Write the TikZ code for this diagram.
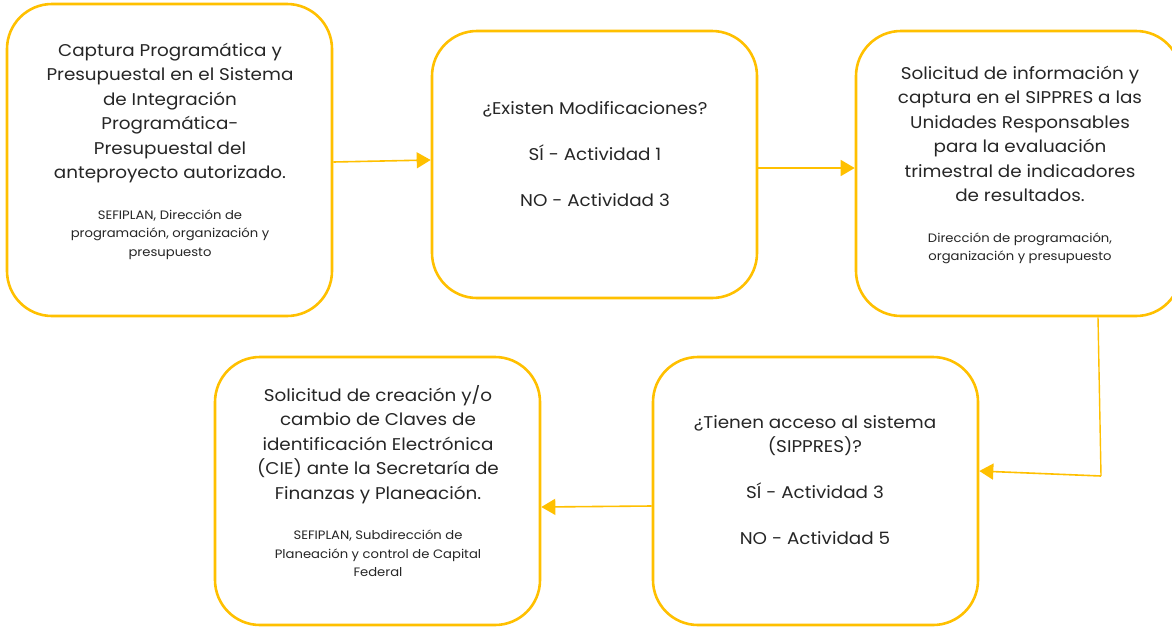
\documentclass[tikz,border=0pt]{standalone}
\usepackage{fontspec}
\setmainfont[FakeStretch=1.08]{Poppins}
\usetikzlibrary{arrows.meta}
\definecolor{gold}{HTML}{FFC000}
\definecolor{ink}{HTML}{262626}
\tikzset{
  box/.style={draw=gold, line width=2.6pt, rounded corners=45pt, minimum width=325pt, fill=white},
  main/.style={align=center, text=ink, font=\fontsize{17}{24.5}\selectfont, inner sep=0pt},
  arr/.style={draw=gold, line width=1.6pt, -{Triangle[length=14pt,width=16pt]}},
  thin/.style={draw=gold, line width=1.4pt},
}
\newcommand{\smalltxt}{\fontsize{12.2}{18.5}\selectfont}
\begin{document}
\begin{tikzpicture}[x=1pt,y=-1pt]
\useasboundingbox (0,0) rectangle (1172,627);
\fill[white] (0,0) rectangle (1172,627);
\clip (0,0) rectangle (1172,627);
% boxes
\node[box, minimum height=312pt] (b1) at (169.5,160) {};
\node[box, minimum height=267pt] (b2) at (594.5,164.5) {};
\node[box, minimum height=285pt] (b3) at (1018.5,173.5) {};
\node[box, minimum height=268pt] (b4) at (377.5,491) {};
\node[box, minimum height=268pt] (b5) at (815.5,491) {};
% texts
\node[main] (t1) at (170,151) {Captura Programática y\\Presupuestal en el Sistema\\de Integración\\Programática-\\Presupuestal del\\anteproyecto autorizado.\\[16pt]{\smalltxt SEFIPLAN, Dirección de}\\[-6pt]{\smalltxt programación, organización y}\\[-6pt]{\smalltxt presupuesto}};
\node[main] (t2) at (595,154) {¿Existen Modificaciones?\\[21.5pt]SÍ - Actividad 1\\[21.5pt]NO - Actividad 3};
\node[main] (t3) at (1020,165) {Solicitud de información y\\captura en el SIPPRES a las\\Unidades Responsables\\para la evaluación\\trimestral de indicadores\\de resultados.\\[16pt]{\smalltxt Dirección de programación,}\\[-6pt]{\smalltxt organización y presupuesto}};
\node[main] (t4) at (378,481) {Solicitud de creación y/o\\cambio de Claves de\\identificación Electrónica\\(CIE) ante la Secretaría de\\Finanzas y Planeación.\\[16pt]{\smalltxt SEFIPLAN, Subdirección de}\\[-6pt]{\smalltxt Planeación y control de Capital}\\[-6pt]{\smalltxt Federal}};
\node[main] (t5) at (815,480) {¿Tienen acceso al sistema\\(SIPPRES)?\\[21.5pt]SÍ - Actividad 3\\[21.5pt]NO - Actividad 5};
% connectors
\draw[arr] ([yshift=-2pt]b1.east) -- ([yshift=4.5pt]b2.west);
\draw[arr] ([yshift=-3.5pt]b2.east) -- ([yshift=5.5pt]b3.west);
\coordinate (c) at (1101,476);
\draw[thin] ([xshift=79.5pt]b3.south) -- (c);
\draw[arr] (c) -- ([yshift=20pt]b5.east);
\draw[arr] ([yshift=-15pt]b5.west) -- ([yshift=-16pt]b4.east);
\end{tikzpicture}
\end{document}
